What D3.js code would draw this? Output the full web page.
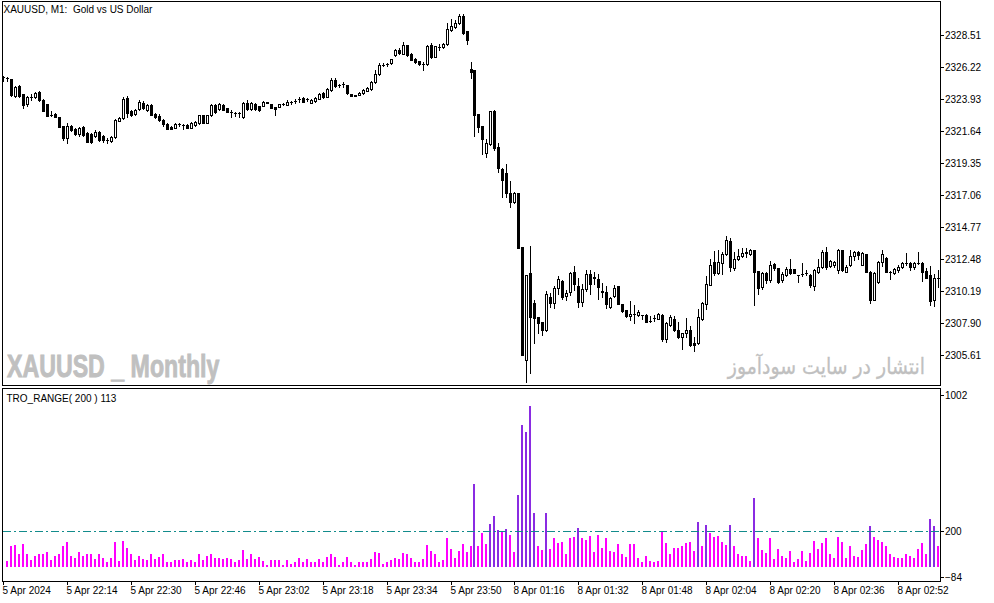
<!DOCTYPE html>
<html><head><meta charset="utf-8">
<script src="https://cdn.jsdelivr.net/npm/d3@7"></script>
<style>html,body{margin:0;padding:0;background:#fff;} svg{display:block;} .pre{white-space:pre;}</style>
</head><body>
<svg id="c" width="994" height="603"></svg>
<script>
// ---------- DATA ----------
const openP = [
2325.51,2325.44,2325.36,2324.15,2324.86,2324.29,2323.57,2324.07,2324.07,2324.43,
2323.86,2323.57,2322.79,2322.86,2322.64,2322.00,2321.14,2322.00,2321.78,2321.43,
2321.93,2321.50,2321.43,2321.28,2321.57,2321.28,2321.00,2320.92,2321.21,2322.36,
2322.57,2324.00,2323.07,2322.86,2323.22,2323.65,2323.14,2323.50,2322.86,2322.71,
2322.43,2322.14,2321.93,2321.86,2322.14,2322.07,2322.07,2321.86,2322.07,2322.21,
2322.79,2322.21,2322.79,2323.50,2323.22,2323.50,2323.29,2323.00,2322.93,2322.93,
2322.64,2323.65,2323.22,2323.57,2323.43,2323.43,2323.72,2323.57,2323.36,2323.36,
2323.57,2323.50,2323.72,2323.79,2323.93,2324.00,2323.93,2323.65,2323.79,2323.93,
2324.36,2324.07,2324.58,2325.29,2324.93,2325.01,2324.93,2324.29,2324.22,2324.22,
2324.36,2324.50,2324.65,2325.15,2325.72,2326.37,2326.44,2326.51,2327.08,2327.44,
2327.15,2327.80,2327.15,2326.80,2326.65,2326.47,2326.44,2327.80,2326.94,2327.67,
2327.67,2327.87,2328.87,2329.09,2329.37,2329.87,2328.80,2326.08,2326.01,2322.86,
2322.00,2320.07,2320.71,2323.07,2320.49,2318.92,2318.63,2317.20,2316.56,2317.20,
2313.34,2305.24,2311.47,2309.33,2308.32,2307.96,2307.39,2309.75,2309.33,2310.40,
2310.90,2309.83,2310.11,2311.54,2310.54,2309.40,2310.33,2311.40,2311.19,2311.04,
2310.18,2310.11,2309.04,2309.83,2310.54,2309.25,2308.82,2308.39,2308.54,2308.47,
2308.47,2308.47,2308.04,2308.25,2308.18,2308.47,2306.75,2307.75,2308.18,2307.39,
2306.89,2307.18,2307.39,2306.46,2306.46,2308.18,2309.25,2310.61,2312.26,2311.47,
2312.19,2312.83,2313.76,2311.83,2312.48,2312.69,2312.91,2312.83,2313.12,2311.62,
2310.47,2311.47,2310.97,2312.12,2311.83,2310.97,2311.33,2311.76,2311.76,2311.33,
2311.40,2311.47,2311.33,2310.54,2311.54,2311.90,2312.98,2311.97,2312.05,2311.69,
2313.12,2311.54,2312.05,2312.69,2312.98,2312.05,2312.83,2311.54,2309.54,2310.83,
2312.26,2312.55,2311.54,2311.47,2311.69,2311.90,2312.19,2312.19,2311.90,2312.19,
2312.19,2311.62,2311.33,2309.54,2311.12];
const highP = [
2325.58,2325.51,2325.36,2324.86,2324.93,2324.29,2324.15,2324.29,2324.43,2324.50,
2323.93,2323.57,2323.07,2322.93,2322.64,2322.00,2322.21,2322.07,2321.86,2321.93,
2322.00,2321.57,2321.50,2321.71,2321.64,2321.35,2321.14,2321.28,2322.50,2322.64,
2324.07,2324.15,2323.14,2323.22,2323.86,2323.79,2323.57,2323.57,2322.93,2322.86,
2322.50,2322.21,2322.00,2322.21,2322.21,2322.14,2322.14,2322.28,2322.36,2322.79,
2322.79,2322.79,2323.57,2323.57,2323.65,2323.57,2323.29,2323.14,2323.00,2323.00,
2323.72,2323.86,2323.72,2323.65,2323.43,2323.79,2323.72,2323.57,2323.36,2323.57,
2323.65,2323.86,2323.79,2323.93,2324.07,2324.07,2324.00,2323.93,2324.07,2324.36,
2324.43,2324.72,2325.44,2325.44,2325.01,2325.15,2324.93,2324.29,2324.22,2324.43,
2324.65,2324.79,2325.22,2326.01,2326.51,2326.51,2326.51,2326.80,2327.51,2327.58,
2328.01,2327.80,2327.23,2326.87,2326.65,2326.58,2327.80,2327.94,2327.73,2327.87,
2327.94,2329.37,2329.66,2329.59,2330.02,2330.02,2328.80,2326.58,2326.01,2322.86,
2322.00,2321.07,2323.07,2323.14,2320.78,2318.99,2319.28,2318.06,2317.27,2317.20,
2313.34,2311.33,2313.41,2309.54,2308.32,2307.96,2310.18,2310.04,2310.54,2311.26,
2310.97,2310.26,2311.54,2311.97,2311.12,2310.69,2311.69,2311.69,2311.54,2311.40,
2310.76,2310.54,2309.75,2310.61,2310.54,2309.25,2308.82,2309.47,2309.18,2308.82,
2308.47,2308.54,2308.39,2308.47,2308.61,2308.54,2307.96,2308.47,2308.39,2307.96,
2307.18,2308.25,2307.68,2306.89,2308.90,2309.40,2311.26,2312.48,2313.05,2313.12,
2312.98,2314.12,2313.98,2312.98,2313.19,2313.26,2313.26,2313.19,2313.12,2311.62,
2311.54,2311.54,2312.33,2312.19,2311.83,2311.54,2311.90,2312.48,2311.76,2311.33,
2312.19,2311.69,2311.40,2311.76,2312.48,2313.12,2313.34,2312.40,2312.33,2313.19,
2313.12,2312.05,2313.12,2313.05,2313.05,2312.98,2312.83,2311.62,2311.54,2312.33,
2313.12,2312.62,2311.62,2311.83,2312.05,2312.26,2312.91,2312.26,2312.26,2312.98,
2312.26,2311.83,2311.97,2311.40,2311.69];
const lowP = [
2325.22,2325.22,2324.15,2324.07,2324.07,2323.29,2323.43,2323.86,2324.00,2323.79,
2323.07,2322.71,2322.71,2322.64,2321.93,2321.00,2320.78,2321.64,2321.35,2321.28,
2321.28,2320.85,2320.78,2321.21,2320.92,2320.85,2320.78,2320.85,2321.14,2322.36,
2322.50,2322.64,2322.71,2322.79,2323.14,2323.22,2323.07,2322.79,2322.57,2322.36,
2322.00,2321.78,2321.78,2321.86,2322.00,2321.78,2321.86,2321.86,2322.00,2322.14,
2322.21,2322.21,2322.71,2322.93,2323.14,2323.14,2323.00,2322.64,2322.71,2322.64,
2322.57,2323.14,2323.14,2323.14,2323.07,2323.43,2323.65,2323.29,2322.79,2323.36,
2323.50,2323.50,2323.57,2323.65,2323.72,2323.72,2323.79,2323.65,2323.72,2323.93,
2324.00,2324.07,2324.50,2324.79,2324.79,2324.79,2324.29,2324.15,2324.15,2324.22,
2324.29,2324.50,2324.58,2325.08,2325.65,2326.29,2326.29,2326.44,2327.01,2327.15,
2327.15,2327.01,2326.72,2326.51,2326.37,2326.01,2326.37,2326.87,2326.94,2327.44,
2327.58,2327.80,2328.80,2329.02,2329.30,2328.59,2327.87,2325.44,2321.28,2321.57,
2319.99,2319.78,2320.64,2320.28,2318.70,2316.91,2316.91,2316.20,2316.49,2313.26,
2305.60,2303.67,2304.31,2306.46,2307.18,2307.03,2307.32,2309.04,2308.97,2309.97,
2309.61,2309.54,2309.90,2310.26,2309.04,2309.11,2310.18,2309.97,2310.69,2309.61,
2309.75,2308.97,2308.97,2309.75,2309.25,2308.68,2308.32,2308.11,2307.89,2308.39,
2308.18,2307.96,2307.96,2308.04,2308.18,2306.60,2306.53,2307.68,2307.32,2306.82,
2306.03,2306.89,2306.25,2305.89,2306.39,2308.11,2308.90,2310.61,2311.33,2311.40,
2311.40,2312.76,2311.62,2311.69,2312.40,2312.62,2312.62,2312.76,2309.18,2309.97,
2310.33,2310.76,2310.83,2311.69,2310.76,2310.83,2311.26,2311.40,2311.47,2310.83,
2311.26,2311.33,2310.47,2310.26,2311.47,2311.83,2311.76,2311.90,2311.90,2311.47,
2311.62,2311.54,2311.97,2312.40,2312.48,2312.05,2311.54,2309.33,2309.54,2310.76,
2311.97,2311.54,2311.04,2311.40,2311.54,2311.83,2312.05,2311.69,2311.76,2312.12,
2310.90,2311.12,2309.18,2309.11,2310.47];
const closeP = [
2325.51,2325.44,2324.22,2324.79,2324.15,2323.50,2324.07,2324.07,2324.36,2323.86,
2323.07,2322.71,2322.79,2322.64,2321.93,2321.14,2322.00,2321.71,2321.43,2321.86,
2321.35,2320.85,2320.85,2321.57,2321.00,2321.00,2321.00,2321.21,2322.43,2322.57,
2323.93,2322.93,2322.79,2323.14,2323.72,2323.29,2323.50,2322.79,2322.64,2322.43,
2322.14,2321.78,2321.78,2322.14,2322.14,2322.07,2321.86,2322.21,2322.28,2322.79,
2322.21,2322.79,2323.50,2323.00,2323.57,2323.14,2323.00,2323.00,2322.93,2322.93,
2323.65,2323.22,2323.65,2323.22,2323.14,2323.72,2323.65,2323.29,2323.22,2323.57,
2323.57,2323.72,2323.72,2323.79,2323.93,2323.72,2323.93,2323.86,2324.00,2324.29,
2324.07,2324.65,2325.29,2324.86,2324.93,2325.01,2324.36,2324.15,2324.15,2324.36,
2324.58,2324.72,2325.15,2325.72,2326.37,2326.37,2326.44,2326.80,2327.44,2327.23,
2327.80,2327.08,2326.72,2326.58,2326.44,2326.47,2327.73,2326.94,2327.73,2327.67,
2327.87,2328.94,2329.16,2329.37,2329.87,2328.66,2328.16,2325.86,2322.79,2321.93,
2321.07,2320.78,2323.07,2320.42,2318.99,2318.13,2317.20,2316.56,2317.20,2313.26,
2305.60,2311.33,2308.32,2308.25,2307.89,2307.39,2309.97,2309.33,2310.40,2311.04,
2309.75,2310.04,2311.47,2310.69,2309.40,2310.33,2311.40,2310.69,2311.12,2310.47,
2310.11,2309.25,2309.68,2310.40,2309.25,2308.75,2308.39,2308.54,2308.54,2308.68,
2308.47,2307.96,2308.04,2308.25,2308.54,2306.75,2307.89,2308.32,2307.39,2306.89,
2307.18,2307.39,2306.32,2306.32,2308.32,2309.33,2310.69,2312.05,2311.47,2312.26,
2312.83,2313.84,2311.90,2312.48,2312.69,2312.91,2312.98,2313.12,2311.54,2310.40,
2311.47,2310.97,2312.05,2311.83,2310.83,2311.40,2311.76,2311.47,2311.47,2311.33,
2311.40,2311.47,2310.61,2311.69,2311.90,2312.98,2311.90,2312.33,2312.26,2313.12,
2311.69,2311.90,2312.69,2312.98,2312.76,2312.91,2311.54,2309.54,2311.47,2312.26,
2312.83,2311.54,2311.54,2311.76,2311.90,2312.19,2312.19,2311.90,2312.19,2312.19,
2311.54,2311.12,2309.47,2311.12,2311.12];
// TRO_RANGE(200) values, one per candle starting at candle index 1
const rangeStart = 1;
const rangeValues = [
30,118,124,73,129,73,39,58,68,73,
84,36,58,73,113,141,62,51,84,62,
73,73,45,73,51,28,51,141,34,146,
107,68,39,62,45,39,73,45,56,73,
28,23,39,39,45,23,39,28,68,39,
62,73,51,51,45,51,45,28,39,96,
45,68,45,56,34,11,39,39,39,11,
39,17,23,51,23,45,28,28,45,28,
56,68,56,11,28,56,23,11,23,23,
23,45,84,79,17,23,39,51,45,79,
68,51,28,23,45,124,90,68,28,39,
158,101,51,90,129,84,113,467,118,191,
129,242,287,205,198,210,180,84,400,794,
760,906,304,113,96,304,101,163,135,141,
73,163,169,219,158,152,174,84,180,107,
158,90,84,129,68,56,129,129,51,28,
62,34,28,34,196,135,73,107,107,113,
135,141,90,248,118,236,191,169,174,141,
124,236,118,73,62,62,34,388,158,96,
79,158,45,101,62,51,90,28,45,90,
34,79,146,101,135,158,68,51,169,141,
51,118,62,56,96,129,231,169,152,141,
113,68,56,51,51,73,62,51,101,135,
73,270,231,113];
const rangeLevel = 200;
const priceTicks = [2328.51,2326.22,2323.93,2321.64,2319.35,2317.06,2314.77,2312.48,2310.19,2307.90,2305.61];
const indTicks = [1002,200,-84];
const timeTickIndex = [0,16,32,48,64,80,96,112,128,144,160,176,192,208,224];
const timeLabels = ["5 Apr 2024","5 Apr 22:14","5 Apr 22:30","5 Apr 22:46","5 Apr 23:02","5 Apr 23:18","5 Apr 23:34","5 Apr 23:50","8 Apr 01:16","8 Apr 01:32","8 Apr 01:48","8 Apr 02:04","8 Apr 02:20","8 Apr 02:36","8 Apr 02:52"];
const titleText = "XAUUSD, M1:  Gold vs US Dollar";
const indLabel = "TRO_RANGE( 200 ) 113";
const watermarkLeft = "XAUUSD _ Monthly";
const watermarkRight = "انتشار در سایت سودآموز";

// ---------- LAYOUT ----------
const FONT = "'Liberation Sans', Arial, sans-serif";
const Lx = 2.5, Rx = 940.5, mainTop = 1.5, mainBot = 385.5, indTop = 388.5, indBot = 581.5;
const n = openP.length;
const svg = d3.select("#c");
svg.append("rect").attr("width",994).attr("height",603).attr("fill","#fff");

const x = d3.scalePoint().domain(d3.range(n)).range([3, 938]);
const xc = i => Math.round(x(i));
const yMain = d3.scaleLinear().domain([2303.42, 2330.91]).range([mainBot, mainTop]);
const yInd = d3.scaleLinear().domain([-84, 1002]).range([indBot, indTop]);

const candles = d3.range(n).map(i => ({i, o:openP[i], h:highP[i], l:lowP[i], c:closeP[i]}));

// ---------- WATERMARKS (behind marks) ----------
function fitText(t, x0, x1){
  const bb = t.node().getBBox();
  if (!bb.width) return;
  const sx = (x1-x0)/bb.width;
  t.attr("transform", `translate(${x0 - sx*bb.x},0) scale(${sx},1)`);
}
const wl = svg.append("text").attr("x",0).attr("y",377)
  .attr("font-family","'Liberation Sans Narrow','Liberation Sans',Arial,sans-serif")
  .attr("font-weight","bold").attr("font-size",31).attr("fill","#c0c0c0")
  .attr("stroke","#c0c0c0").attr("stroke-width",0.9).text(watermarkLeft);
fitText(wl, 7, 220);
const wr = svg.append("text").attr("x",0).attr("y",374)
  .attr("font-family","'DejaVu Sans', 'Noto Sans', sans-serif")
  .attr("font-size",22).attr("fill","#c0c0c0").attr("stroke","#c0c0c0").attr("stroke-width",0.3)
  .attr("direction","rtl").attr("text-anchor","end").text(watermarkRight);
fitText(wr, 727, 925);

// ---------- CANDLES ----------
const gC = svg.append("g").attr("shape-rendering","crispEdges");
gC.selectAll("line.wick").data(candles).join("line")
  .attr("class","wick")
  .attr("x1", d => xc(d.i)+0.5).attr("x2", d => xc(d.i)+0.5)
  .attr("y1", d => Math.round(yMain(d.h))).attr("y2", d => Math.round(yMain(d.l))+1)
  .attr("stroke","#000").attr("stroke-width",1);
candles.forEach(d => {
  const cx = xc(d.i);
  const yo = Math.round(yMain(d.o)), yc = Math.round(yMain(d.c));
  const top = Math.min(yo,yc), bot = Math.max(yo,yc);
  if (d.c > d.o && bot - top >= 2) {
    gC.append("rect").attr("x", cx-0.5).attr("y", top+0.5).attr("width",2).attr("height", bot-top)
      .attr("fill","#fff").attr("stroke","#000").attr("stroke-width",1);
  } else {
    gC.append("rect").attr("x", cx-1).attr("y", top).attr("width",3).attr("height", bot-top+1).attr("fill","#000");
  }
});

// ---------- INDICATOR ----------
const bars = rangeValues.map((v,k) => ({i:k+rangeStart, v}));
const gB = svg.append("g").attr("shape-rendering","crispEdges");
gB.selectAll("rect").data(bars).join("rect")
  .attr("x", d => xc(d.i)-1).attr("width",2)
  .attr("y", d => Math.round(yInd(d.v))).attr("height", d => Math.max(1, Math.round(yInd(0)) - Math.round(yInd(d.v))))
  .attr("fill", d => d.v > rangeLevel ? "#8A2BE2" : "#FF00FF");
svg.append("line").attr("x1",Lx).attr("x2",Rx)
  .attr("y1", Math.round(yInd(rangeLevel))+0.5).attr("y2", Math.round(yInd(rangeLevel))+0.5)
  .attr("stroke","#128c8c").attr("stroke-width",1).attr("stroke-dasharray","8,3,2,3")
  .attr("shape-rendering","crispEdges");

// ---------- FRAMES ----------
const gF = svg.append("g").attr("fill","none").attr("stroke","#000").attr("shape-rendering","crispEdges");
gF.append("rect").attr("x",Lx).attr("y",mainTop).attr("width",Rx-Lx).attr("height",mainBot-mainTop);
gF.append("rect").attr("x",Lx).attr("y",indTop).attr("width",Rx-Lx).attr("height",indBot-indTop);

// ---------- AXES ----------
function styleAxis(g){
  g.select(".domain").remove();
  g.attr("font-family", FONT).attr("font-size", 10).attr("shape-rendering","crispEdges");
  g.selectAll("text").attr("fill","#000");
  g.selectAll("line").attr("stroke","#000");
}
const axP = svg.append("g").attr("transform",`translate(${Rx-0.5},0)`)
  .call(d3.axisRight(yMain).tickValues(priceTicks).tickFormat(d3.format(".2f")).tickSize(4).tickPadding(1));
styleAxis(axP);

const axI = svg.append("g").attr("transform",`translate(${Rx-0.5},0)`)
  .call(d3.axisRight(yInd).tickValues(indTicks).tickFormat(d3.format("d")).tickSize(4).tickPadding(1));
styleAxis(axI);
axI.selectAll(".tick").attr("transform", d => {
  const yy = Math.max(indTop+6, Math.min(indBot-4.5, yInd(d)));
  return `translate(0,${Math.round(yy)+0.5})`;
});

const axT = svg.append("g").attr("transform",`translate(0,${indBot-0.5})`)
  .call(d3.axisBottom(x).tickValues(timeTickIndex).tickFormat((d,k) => timeLabels[k]).tickSize(4).tickPadding(2));
styleAxis(axT);
axT.selectAll(".tick").attr("transform", d => `translate(${xc(d)+0.5},0)`);
axT.selectAll("text").attr("text-anchor","start").attr("x",-1).attr("dy","0.71em").attr("y",6);

// ---------- TEXTS ----------
svg.append("text").attr("class","pre").attr("x",3.5).attr("y",13).attr("font-family",FONT).attr("font-size",10).attr("fill","#000").text(titleText);
svg.append("text").attr("class","pre").attr("x",6.5).attr("y",401.5).attr("font-family",FONT).attr("font-size",10).attr("fill","#000").text(indLabel);
</script>
</body></html>
